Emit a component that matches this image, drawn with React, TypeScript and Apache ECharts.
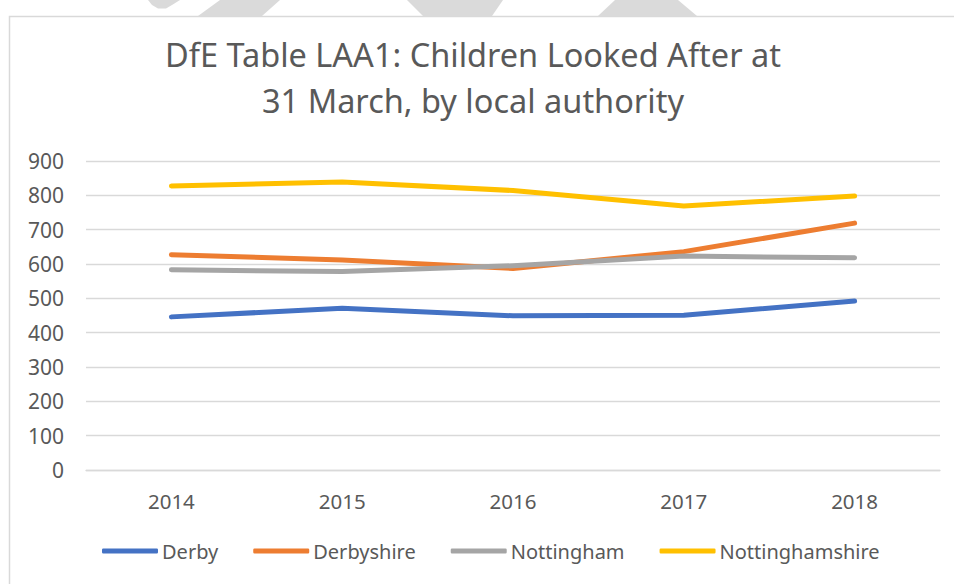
import React, { useEffect, useRef } from "react";
import * as echarts from "echarts";

const years = ["2014", "2015", "2016", "2017", "2018"];
const derby = [446, 471, 449, 451, 492];
const derbyshire = [627, 612, 587, 636, 719];
const nottingham = [583, 578, 595, 623, 618];
const nottinghamshire = [827, 839, 814, 769, 798];

const seriesNames = ["Derby", "Derbyshire", "Nottingham", "Nottinghamshire"];
const seriesColors = ["#4472C4", "#ED7D31", "#A5A5A5", "#FFC000"];
const seriesData = [derby, derbyshire, nottingham, nottinghamshire];

const titleLines = "DfE Table LAA1: Children Looked After at\n31 March, by local authority";

const FONT = "'Noto Sans', sans-serif";
const TEXT = "#595959";

export default function App() {
  const ref = useRef<HTMLDivElement>(null);
  useEffect(() => {
    if (!ref.current) return;
    const chart = echarts.init(ref.current, undefined, { renderer: "svg" });
    const shapeStyle = { fill: "#dadada" };
    chart.setOption({
      animation: false,
      backgroundColor: "#ffffff",
      graphic: [
        { type: "polygon", z: -10, shape: { points: [[148, 0], [152, 5], [158, 8.5], [166, 8.5], [172, 5], [180, 0]] }, style: shapeStyle },
        { type: "polygon", z: -10, shape: { points: [[198, 16], [220, 0], [280, 0], [262, 16]] }, style: shapeStyle },
        { type: "polygon", z: -10, shape: { points: [[407, 0], [503, 0], [492, 16], [423, 16]] }, style: shapeStyle },
        { type: "polygon", z: -10, shape: { points: [[598, 16], [615, 0], [678, 0], [697, 16]] }, style: shapeStyle },
        { type: "rect", z: -5, shape: { x: 9.5, y: 16.5, width: 980, height: 600 }, style: { fill: "#ffffff", stroke: "#d9d9d9", lineWidth: 1.5 } },
      ],
      title: {
        text: titleLines,
        left: 473,
        textAlign: "center",
        top: 31,
        padding: 0,
        textStyle: { fontFamily: FONT, fontSize: 32.5, fontWeight: "normal", color: TEXT, lineHeight: 46 },
      },
      legend: {
        data: seriesNames,
        left: 102,
        top: 541,
        padding: 0,
        itemGap: 35,
        itemWidth: 56,
        itemHeight: 5,
        icon: "roundRect",
        textStyle: { fontFamily: FONT, fontSize: 20, color: TEXT, padding: [0, 0, 0, -1] },
      },
      grid: { left: 86, right: 14, top: 161, bottom: 114, containLabel: false },
      xAxis: {
        type: "category",
        data: years,
        boundaryGap: true,
        axisLine: { show: true, lineStyle: { color: "#d9d9d9", width: 1.3 } },
        axisTick: { show: false },
        axisLabel: { fontFamily: FONT, fontSize: 20.5, color: TEXT, margin: 20 },
      },
      yAxis: {
        type: "value",
        min: 0,
        max: 900,
        interval: 100,
        axisLine: { show: false },
        axisTick: { show: false },
        splitLine: { lineStyle: { color: "#d9d9d9", width: 1.3 } },
        axisLabel: { fontFamily: FONT, fontSize: 21, color: TEXT, margin: 22 },
      },
      series: seriesNames.map((name, i) => ({
        name,
        type: "line",
        data: seriesData[i],
        symbol: "none",
        showSymbol: false,
        color: seriesColors[i],
        lineStyle: { width: 5, color: seriesColors[i], cap: "round", join: "round" },
      })),
    });
    return () => chart.dispose();
  }, []);
  return (
    <div
      ref={ref}
      style={{ position: "absolute", left: 0, top: 0, width: 954, height: 584 }}
    />
  );
}
